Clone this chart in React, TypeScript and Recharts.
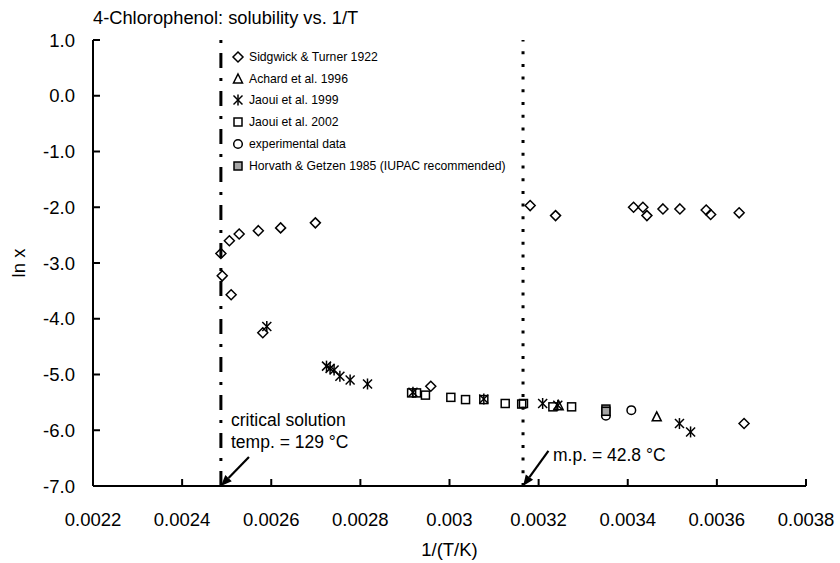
import {
  Legend,
  ReferenceLine,
  Scatter,
  ScatterChart,
  XAxis,
  YAxis,
} from "recharts";

// [1/T, ln x] pairs
const SIDGWICK_1922 = [
  [0.002487, -2.83], [0.00249, -3.23], [0.00251, -3.57], [0.002506, -2.6],
  [0.002528, -2.48], [0.002571, -2.42], [0.002621, -2.37], [0.002699, -2.28],
  [0.002581, -4.25], [0.002958, -5.21], [0.003181, -1.97], [0.003238, -2.15],
  [0.003413, -2.0], [0.003434, -2.0], [0.003443, -2.15], [0.003479, -2.03],
  [0.003517, -2.03], [0.003576, -2.05], [0.003586, -2.13], [0.00365, -2.1],
  [0.003661, -5.88],
];
const ACHARD_1996 = [[0.003245, -5.56], [0.003465, -5.76]];
const JAOUI_1999 = [
  [0.00259, -4.14], [0.002724, -4.85], [0.002732, -4.89], [0.002741, -4.92],
  [0.002754, -5.03], [0.002777, -5.1], [0.002816, -5.17], [0.002918, -5.32],
  [0.003077, -5.44], [0.003209, -5.52], [0.003243, -5.55], [0.003516, -5.88],
  [0.003541, -6.03],
];
const JAOUI_2002 = [
  [0.002915, -5.33], [0.002926, -5.33], [0.002946, -5.37], [0.003003, -5.41],
  [0.003036, -5.45], [0.003077, -5.45], [0.003125, -5.52], [0.003162, -5.53],
  [0.003166, -5.52], [0.003232, -5.58], [0.003274, -5.58],
];
const EXPERIMENTAL = [[0.003351, -5.74], [0.003408, -5.64]];
const HORVATH_1985 = [[0.003351, -5.62], [0.003351, -5.66]];

const X_TICKS = [0.0022, 0.0024, 0.0026, 0.0028, 0.003, 0.0032, 0.0034, 0.0036, 0.0038];
const Y_TICKS = [-7, -6, -5, -4, -3, -2, -1, 0, 1];

const CRITICAL_T = 0.002487; // 129 °C
const MELTING_T = 0.003165; // 42.8 °C

const FONT = '"Liberation Sans", Arial, sans-serif';
const TICK_FONT = 18.5;
const TICK_LEN = 7;

const toPoints = (rows: number[][]) => rows.map(([x, y]) => ({ x, y }));

type Marker = (cx: number, cy: number) => JSX.Element;

const diamond: Marker = (cx, cy) => (
  <polygon
    points={`${cx},${cy - 5} ${cx + 5},${cy} ${cx},${cy + 5} ${cx - 5},${cy}`}
    fill="none"
    stroke="#000"
    strokeWidth={1.5}
  />
);
const triangle: Marker = (cx, cy) => (
  <polygon
    points={`${cx},${cy - 5} ${cx + 4.5},${cy + 4} ${cx - 4.5},${cy + 4}`}
    fill="none"
    stroke="#000"
    strokeWidth={1.5}
  />
);
const asterisk: Marker = (cx, cy) => (
  <g stroke="#000" strokeWidth={1.5}>
    <line x1={cx - 4.5} y1={cy - 4.5} x2={cx + 4.5} y2={cy + 4.5} />
    <line x1={cx - 4.5} y1={cy + 4.5} x2={cx + 4.5} y2={cy - 4.5} />
    <line x1={cx} y1={cy - 5.5} x2={cx} y2={cy + 5.5} />
  </g>
);
const square: Marker = (cx, cy) => (
  <rect x={cx - 4} y={cy - 4} width={8} height={8} fill="none" stroke="#000" strokeWidth={1.5} />
);
const circle: Marker = (cx, cy) => (
  <circle cx={cx} cy={cy} r={4.3} fill="none" stroke="#000" strokeWidth={1.5} />
);
const graySquare: Marker = (cx, cy) => (
  <rect x={cx - 4} y={cy - 4} width={8} height={8} fill="#a6a6a6" stroke="#000" strokeWidth={1.5} />
);

const SERIES = [
  { name: "Sidgwick & Turner 1922", data: SIDGWICK_1922, marker: diamond },
  { name: "Achard et al. 1996", data: ACHARD_1996, marker: triangle },
  { name: "Jaoui et al. 1999", data: JAOUI_1999, marker: asterisk },
  { name: "Jaoui et al. 2002", data: JAOUI_2002, marker: square },
  { name: "experimental data", data: EXPERIMENTAL, marker: circle },
  { name: "Horvath & Getzen 1985 (IUPAC recommended)", data: HORVATH_1985, marker: graySquare },
];

function renderLegend() {
  return (
    <div style={{ fontFamily: FONT, fontSize: 12.2, color: "#000" }}>
      {SERIES.map((s) => (
        <div key={s.name} style={{ display: "flex", alignItems: "center", height: 21.8 }}>
          <svg width={14} height={14} style={{ marginRight: 4 }}>
            {s.marker(7, 7)}
          </svg>
          <span>{s.name}</span>
        </div>
      ))}
    </div>
  );
}

// inward tick marks, drawn as short stubs of reference lines
const yTickStub = (p: any) => {
  const left = Math.min(p.x1, p.x2);
  return <line x1={left} y1={p.y1} x2={left + TICK_LEN} y2={p.y1} stroke="#000" strokeWidth={2} />;
};
const xTickStub = (p: any) => {
  const bottom = Math.max(p.y1, p.y2);
  return <line x1={p.x1} y1={bottom} x2={p.x1} y2={bottom - TICK_LEN} stroke="#000" strokeWidth={2} />;
};

function arrowShape(props: any) {
  const { x1, y1, x2, y2 } = props;
  const ang = Math.atan2(y2 - y1, x2 - x1);
  const len = 11;
  const half = 4.5;
  const bx = x2 - len * Math.cos(ang);
  const by = y2 - len * Math.sin(ang);
  const px = -Math.sin(ang) * half;
  const py = Math.cos(ang) * half;
  return (
    <g>
      <line x1={x1} y1={y1} x2={bx} y2={by} stroke="#000" strokeWidth={2.2} />
      <polygon points={`${x2},${y2} ${bx + px},${by + py} ${bx - px},${by - py}`} fill="#000" />
    </g>
  );
}

const noteStyle = {
  position: "absolute" as const,
  fontFamily: FONT,
  fontSize: 17.5,
  color: "#000",
  lineHeight: "22px",
  whiteSpace: "nowrap" as const,
};

export default function App() {
  return (
    <div style={{ position: "absolute", left: 0, top: 0, width: 840, height: 563, background: "#fff" }}>
      <div style={{ ...noteStyle, fontSize: 18.3, left: 93, top: 7 }}>
        4-Chlorophenol: solubility vs. 1/T
      </div>
      <ScatterChart
        width={840}
        height={563}
        margin={{ top: 40, right: 34, bottom: 0, left: 0 }}
        style={{ fontFamily: FONT }}
      >
        <XAxis
          type="number"
          dataKey="x"
          domain={[0.0022, 0.0038]}
          ticks={X_TICKS}
          allowDataOverflow
          height={77}
          tickSize={0}
          tickMargin={27}
          axisLine={{ stroke: "#000", strokeWidth: 2 }}
          tickLine={false}
          tick={{ fill: "#000", fontSize: TICK_FONT }}
          label={{ value: "1/(T/K)", position: "insideBottom", offset: 7, fill: "#000", fontSize: TICK_FONT }}
        />
        <YAxis
          type="number"
          dataKey="y"
          domain={[-7, 1]}
          ticks={Y_TICKS}
          allowDataOverflow
          width={93}
          tickSize={0}
          tickMargin={18}
          tickFormatter={(v: number) => v.toFixed(1)}
          axisLine={{ stroke: "#000", strokeWidth: 2 }}
          tickLine={false}
          tick={{ fill: "#000", fontSize: TICK_FONT }}
          label={{ value: "ln x", angle: -90, position: "center", dx: -28, fill: "#000", fontSize: TICK_FONT }}
        />
        {Y_TICKS.map((v) => (
          <ReferenceLine key={`yt${v}`} y={v} shape={yTickStub} />
        ))}
        {X_TICKS.map((v) => (
          <ReferenceLine key={`xt${v}`} x={v} shape={xTickStub} />
        ))}
        <ReferenceLine x={CRITICAL_T} stroke="#000" strokeWidth={3} strokeDasharray="15 10 3 10" />
        <ReferenceLine x={MELTING_T} stroke="#000" strokeWidth={3} strokeDasharray="3 9.7" />
        <ReferenceLine
          segment={[{ x: 0.00255, y: -6.48 }, { x: CRITICAL_T, y: -7 }]}
          shape={arrowShape}
        />
        <ReferenceLine
          segment={[{ x: 0.003222, y: -6.37 }, { x: MELTING_T, y: -7 }]}
          shape={arrowShape}
        />
        {SERIES.map((s) => (
          <Scatter
            key={s.name}
            name={s.name}
            data={toPoints(s.data)}
            isAnimationActive={false}
            shape={(p: any) => s.marker(p.cx, p.cy)}
          />
        ))}
        <Legend
          layout="vertical"
          align="center"
          verticalAlign="middle"
          content={renderLegend}
          wrapperStyle={{ left: 231, top: 46, width: 320, height: 135 }}
        />
      </ScatterChart>
      <div style={{ ...noteStyle, left: 231, top: 409 }}>
        critical solution
        <br />
        temp. = 129 °C
      </div>
      <div style={{ ...noteStyle, left: 553, top: 444 }}>m.p. = 42.8 °C</div>
    </div>
  );
}
